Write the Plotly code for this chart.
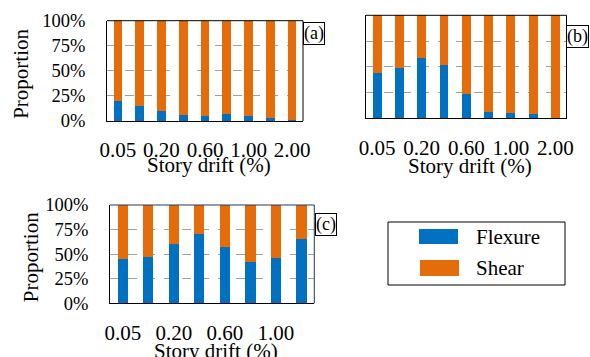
import plotly.graph_objects as go

# ---------------- data ----------------
drift_ab = ["0.05", "0.10", "0.20", "0.40", "0.60", "0.80", "1.00", "1.50", "2.00"]
drift_c = ["0.05", "0.10", "0.20", "0.40", "0.60", "0.80", "1.00", "1.50"]
tick_ab = ["0.05", "0.20", "0.60", "1.00", "2.00"]
tick_c = ["0.05", "0.20", "0.60", "1.00"]

flex_a = [20, 15, 10, 6, 4.5, 6.5, 5, 3, 1]
shear_a = [80, 85, 90, 94, 95.5, 93.5, 95, 97, 99]
flex_b = [43.5, 49, 59, 52, 24, 6.4, 5, 4.5, 0]
shear_b = [56.5, 51, 41, 48, 76, 93.6, 95, 95.5, 100]
flex_c = [45.5, 47.5, 60, 71, 57, 42, 46.5, 65]
shear_c = [54.5, 52.5, 40, 29, 43, 58, 53.5, 35]

y_ticks = [0, 25, 50, 75, 100]
y_ticktext = ["0%", "25%", "50%", "75%", "100%"]
panel_labels = ["(a)", "(b)", "(c)"]

BLUE = "#0070C0"
ORANGE = "#E46C0A"
FONT = "Liberation Serif"
W, H = 590, 357

def px(x):
    return x / W

def py(y):
    return 1 - y / H

fig = go.Figure()

panels = [
    dict(cats=drift_ab, flex=flex_a, shear=shear_a, ticks=tick_ab,
         xd=[107, 303], yd=[20.7, 121], ylab=True, lab=(303, 21.5), title_y=165, frame="black"),
    dict(cats=drift_ab, flex=flex_b, shear=shear_b, ticks=tick_ab,
         xd=[366, 566.5], yd=[15.3, 118.3], ylab=False, lab=(566, 25), title_y=166, frame="black"),
    dict(cats=drift_c, flex=flex_c, shear=shear_c, ticks=tick_c,
         xd=[110, 314.3], yd=[205, 303.3], ylab=True, lab=(315, 212.5), title_y=351, frame="#1F3864"),
]

annotations = []
shapes = []
for i, p in enumerate(panels):
    n = "" if i == 0 else str(i + 1)
    xa, ya = "x" + n, "y" + n
    fig.add_trace(go.Bar(x=p["cats"], y=p["flex"], marker=dict(color=BLUE, line=dict(width=0)),
                         xaxis=xa, yaxis=ya, name="Flexure", showlegend=False))
    fig.add_trace(go.Bar(x=p["cats"], y=p["shear"], marker=dict(color=ORANGE, line=dict(width=0)),
                         xaxis=xa, yaxis=ya, name="Shear", showlegend=False))
    fig.update_layout(**{
        "xaxis" + n: dict(
            domain=[px(p["xd"][0]), px(p["xd"][1])], anchor=ya, automargin=False,
            type="category", categoryorder="array", categoryarray=p["cats"],
            range=[-0.5, len(p["cats"]) - 0.5],
            tickmode="array", tickvals=p["ticks"], ticktext=p["ticks"],
            ticks="outside", ticklen=10, tickcolor="rgba(0,0,0,0)",
            tickfont=dict(family=FONT, size=21, color="black"),
            showline=True, linecolor="black", linewidth=1, mirror=False,
            showgrid=False, zeroline=False,
        ),
        "yaxis" + n: dict(
            domain=[py(p["yd"][1]), py(p["yd"][0])], anchor=xa, automargin=False,
            range=[0, 100], tickmode="array", tickvals=y_ticks, ticktext=y_ticktext,
            showticklabels=p["ylab"],
            ticks="outside", ticklen=17, tickcolor="rgba(0,0,0,0)",
            tickfont=dict(family=FONT, size=18.5, color="black"),
            showline=True, linecolor="black", linewidth=1, mirror=False,
            showgrid=True, gridcolor="#A0A0A0", griddash="dash", gridwidth=1,
            zeroline=False,
        ),
    })
    # top and right frame lines
    shapes.append(dict(type="line", xref=xa + " domain", yref=ya + " domain",
                       x0=0, x1=1, y0=1, y1=1, line=dict(color=p["frame"], width=1)))
    shapes.append(dict(type="line", xref=xa + " domain", yref=ya + " domain",
                       x0=1, x1=1, y0=0, y1=1, line=dict(color=p["frame"], width=1)))
    cx = (p["xd"][0] + p["xd"][1]) / 2
    annotations.append(dict(
        text="Story drift (%)", x=px(cx + 4), y=py(p["title_y"]), xref="paper", yref="paper",
        xanchor="center", yanchor="middle", showarrow=False,
        font=dict(family=FONT, size=21, color="black")))
    if p["ylab"]:
        cy = (p["yd"][0] + p["yd"][1]) / 2
        annotations.append(dict(
            text="Proportion", x=px(21 if i == 0 else 31), y=py(cy + 3), xref="paper", yref="paper",
            xanchor="center", yanchor="middle", textangle=-90, showarrow=False,
            font=dict(family=FONT, size=21, color="black")))
    annotations.append(dict(
        text=panel_labels[i], x=px(p["lab"][0]), y=py(p["lab"][1]), xref="paper", yref="paper",
        xanchor="left", yanchor="top", showarrow=False, bordercolor="black", borderwidth=1,
        borderpad=0, bgcolor="white", font=dict(family=FONT, size=18, color="black")))

# legend box
shapes += [
    dict(type="rect", xref="paper", yref="paper", x0=px(388), x1=px(565), y0=py(285), y1=py(222),
         line=dict(color="black", width=1), fillcolor="white"),
    dict(type="rect", xref="paper", yref="paper", x0=px(419), x1=px(458), y0=py(244), y1=py(229),
         line=dict(width=0), fillcolor=BLUE),
    dict(type="rect", xref="paper", yref="paper", x0=px(420), x1=px(459), y0=py(276), y1=py(260),
         line=dict(width=0), fillcolor=ORANGE),
]
for name, yy in [("Flexure", 237), ("Shear", 268)]:
    annotations.append(dict(
        text=name, x=px(474), y=py(yy), xref="paper", yref="paper",
        xanchor="left", yanchor="middle", showarrow=False,
        font=dict(family=FONT, size=21, color="black")))

fig.update_layout(
    width=W, height=H, margin=dict(l=0, r=0, t=0, b=0, autoexpand=False),
    font=dict(family=FONT, color="black"),
    barmode="stack", bargap=0.6,
    paper_bgcolor="white", plot_bgcolor="white",
    showlegend=False, annotations=annotations, shapes=shapes,
)

fig.write_html("out.html", config={"displayModeBar": False},
               post_script="document.body.style.margin='0';document.body.style.overflow='hidden';")
